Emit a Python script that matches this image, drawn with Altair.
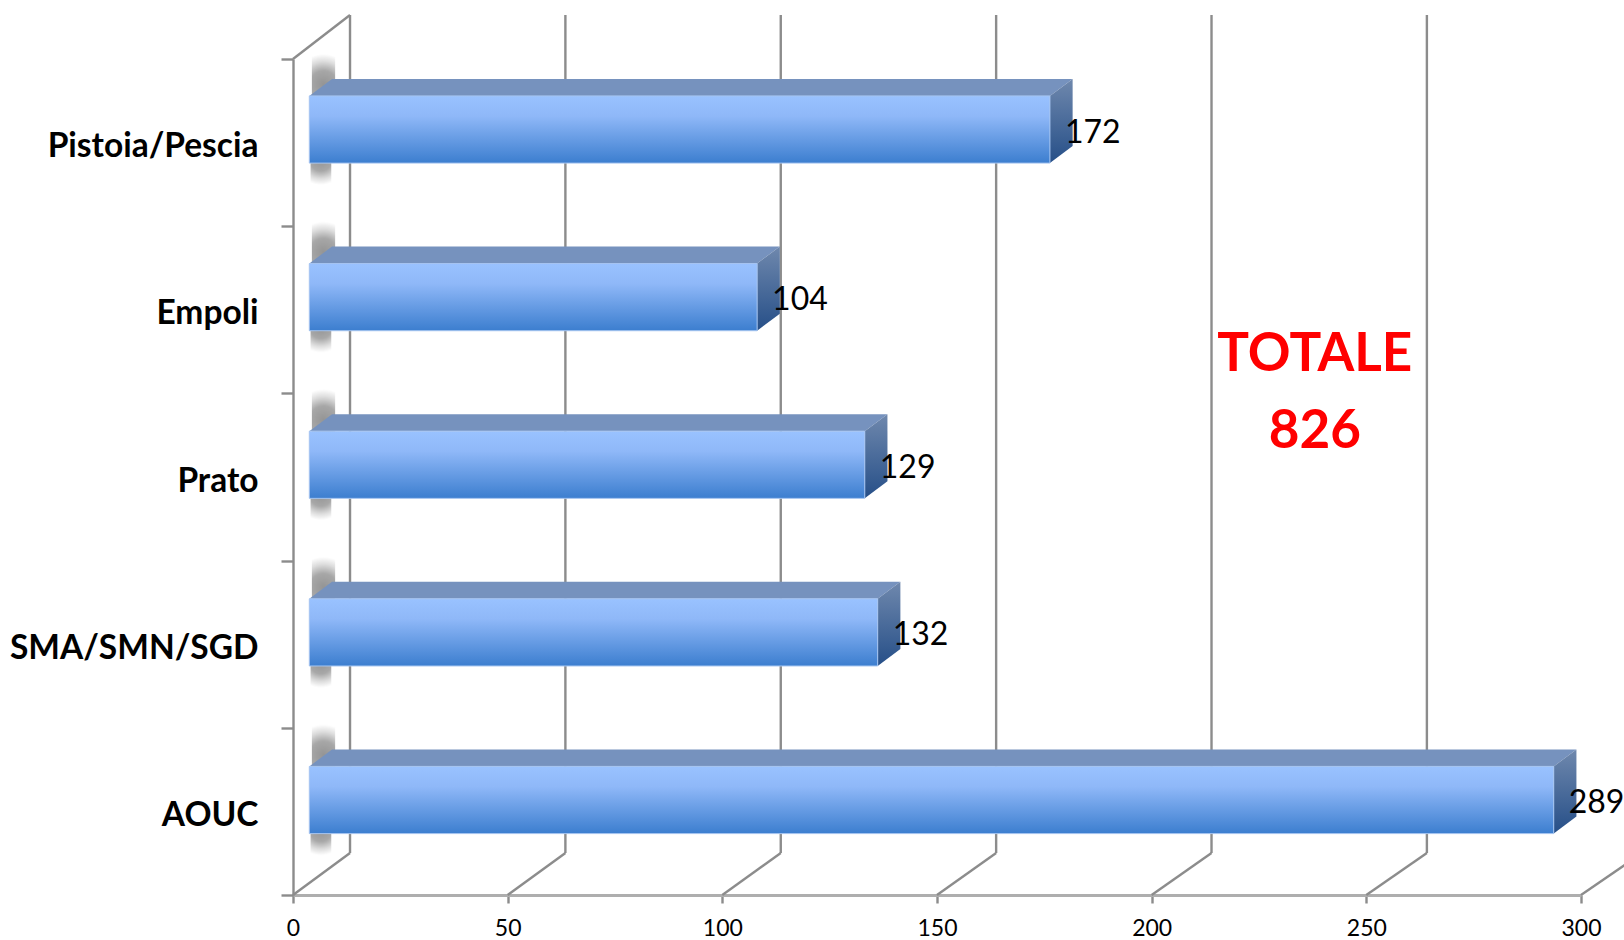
import altair as alt
import pandas as pd

# Data
categories = ["Pistoia/Pescia", "Empoli", "Prato", "SMA/SMN/SGD", "AOUC"]
values = [172, 104, 129, 132, 289]
ticks = [0, 50, 100, 150, 200, 250, 300]
total_lines = ["TOTALE", "826"]

# Wall and floor depth, in axis units of the frame scales
WALL_DX = 13.28
WALL_STRETCH = 1.0033
WALL_DY = 0.2512
WALL_TOP = 5.263

# Half thickness and depth of each bar, in units of the bar scales
BAR_HALF = 0.2005
BAR_DX = 5.27
BAR_DY = 0.1014

frame_x = alt.Scale(domain=[0, 300], range=[293, 1581])
frame_y = alt.Scale(domain=[0, 5], range=[895, 59])
band_y = alt.Scale(domain=categories, range=[59, 895], paddingInner=0, paddingOuter=0)
bar_x = alt.Scale(domain=[0, 300], range=[309.3, 1601.1])
bar_y = alt.Scale(domain=[0, 4], range=[800, 129.5])

GRID = "#8c8c8c"
LINE_W = 2.4

bars = pd.DataFrame({
    "name": categories,
    "value": values,
    "pos": [4, 3, 2, 1, 0],
})
bars["low"] = bars["pos"] - BAR_HALF
bars["high"] = bars["pos"] + BAR_HALF
bars["zero"] = 0

top_rows, side_rows = [], []
for cat, value, pos in zip(bars["name"], bars["value"], bars["pos"]):
    front = pos + BAR_HALF
    back = front + BAR_DY
    top_rows += [
        {"cat": cat, "px": 0, "py": front, "py2": front},
        {"cat": cat, "px": BAR_DX, "py": back, "py2": front},
        {"cat": cat, "px": value, "py": back, "py2": front},
        {"cat": cat, "px": value + BAR_DX, "py": back, "py2": back},
    ]
    side_rows += [
        {"cat": cat, "px": value, "py": front, "py2": pos - BAR_HALF},
        {"cat": cat, "px": value + BAR_DX, "py": back, "py2": pos - BAR_HALF + BAR_DY},
    ]
top_faces = pd.DataFrame(top_rows)
side_faces = pd.DataFrame(side_rows)

# Soft cast shadows on the back wall, above and below each bar
shadows_top = pd.DataFrame(
    [{"x": 0.6, "x2": 6.0, "y": pos + 0.45, "y2": pos + 0.09} for pos in bars["pos"]]
)
shadows_bottom = pd.DataFrame(
    [{"x": 0.3, "x2": 5.1, "y": pos - 0.03, "y2": pos - 0.33} for pos in bars["pos"]]
)

grid = pd.DataFrame({"tick": ticks})
grid["back"] = grid["tick"] * WALL_STRETCH + WALL_DX
grid["y0"] = 0.0
grid["y1"] = WALL_DY
grid["top"] = WALL_TOP

back_lines = alt.Chart(grid).mark_rule(color=GRID, strokeWidth=LINE_W).encode(
    x=alt.X("back:Q", scale=frame_x, axis=None),
    y=alt.Y("y1:Q", scale=frame_y, axis=None),
    y2="top:Q",
)
floor_lines = alt.Chart(grid).mark_rule(color=GRID, strokeWidth=LINE_W).encode(
    x=alt.X("tick:Q", scale=frame_x, axis=None),
    x2="back:Q",
    y=alt.Y("y0:Q", scale=frame_y, axis=None),
    y2="y1:Q",
)
side_wall_top = alt.Chart(grid[grid["tick"] == 0].assign(front_top=5.0)).mark_rule(
    color=GRID, strokeWidth=LINE_W
).encode(
    x=alt.X("tick:Q", scale=frame_x, axis=None),
    x2="back:Q",
    y=alt.Y("front_top:Q", scale=frame_y, axis=None),
    y2="top:Q",
)

# Invisible layer that carries the two real axes
axes_layer = alt.Chart(
    pd.DataFrame({"name": categories, "value": values})
).mark_point(opacity=0).encode(
    x=alt.X(
        "value:Q",
        scale=frame_x,
        axis=alt.Axis(
            values=ticks,
            title=None,
            grid=False,
            offset=-45,
            tickSize=8,
            tickWidth=LINE_W,
            tickColor=GRID,
            domainColor="#aeaeae",
            domainWidth=2.8,
            labelFont="Lato",
            labelFontSize=23,
            labelColor="#000000",
            labelPadding=14,
            labelFlush=False,
            format="d",
        ),
    ),
    y=alt.Y(
        "name:N",
        scale=band_y,
        sort=categories,
        axis=alt.Axis(
            title=None,
            grid=False,
            offset=-293,
            tickSize=12,
            tickWidth=LINE_W,
            tickColor=GRID,
            tickBand="extent",
            domainColor=GRID,
            domainWidth=LINE_W,
            labelFont="Lato",
            labelFontSize=33.5,
            labelFontWeight="bold",
            labelColor="#000000",
            labelPadding=23,
            labelOffset=4,
            labelLimit=400,
        ),
    ),
)

def blob():
    return alt.Gradient(
        gradient="radial",
        x1=0.5, y1=0.5, r1=0,
        x2=0.5, y2=0.5, r2=0.5,
        stops=[
            alt.GradientStop(offset=0, color="rgba(130,130,130,0.85)"),
            alt.GradientStop(offset=0.45, color="rgba(130,130,130,0.7)"),
            alt.GradientStop(offset=0.75, color="rgba(130,130,130,0.28)"),
            alt.GradientStop(offset=1, color="rgba(130,130,130,0)"),
        ],
    )

def shadow_layer(frame):
    return alt.Chart(frame).mark_rect(color=blob()).encode(
        x=alt.X("x:Q", scale=bar_x, axis=None),
        x2="x2:Q",
        y=alt.Y("y:Q", scale=bar_y, axis=None),
        y2="y2:Q",
    )

front_faces = alt.Chart(bars).mark_rect(
    color=alt.Gradient(
        gradient="linear", x1=0, y1=0, x2=0, y2=1,
        stops=[
            alt.GradientStop(offset=0, color="#99C2FF"),
            alt.GradientStop(offset=0.3, color="#8FB8F8"),
            alt.GradientStop(offset=1, color="#3C7ECF"),
        ],
    ),
    stroke="#A5C4F0",
    strokeWidth=1,
).encode(
    x=alt.X("zero:Q", scale=bar_x, axis=None),
    x2="value:Q",
    y=alt.Y("high:Q", scale=bar_y, axis=None),
    y2="low:Q",
)

top_layer = alt.Chart(top_faces).mark_area(
    color="#7692BE", orient="vertical", interpolate="linear"
).encode(
    x=alt.X("px:Q", scale=bar_x, axis=None),
    y=alt.Y("py:Q", scale=bar_y, axis=None, stack=None),
    y2="py2:Q",
    detail="cat:N",
)

side_layer = alt.Chart(side_faces).mark_area(
    color=alt.Gradient(
        gradient="linear", x1=0, y1=0, x2=0, y2=1,
        stops=[
            alt.GradientStop(offset=0, color="#6F88AD"),
            alt.GradientStop(offset=1, color="#264F88"),
        ],
    ),
    orient="vertical",
    interpolate="linear",
).encode(
    x=alt.X("px:Q", scale=bar_x, axis=None),
    y=alt.Y("py:Q", scale=bar_y, axis=None, stack=None),
    y2="py2:Q",
    detail="cat:N",
)

value_labels = alt.Chart(bars).mark_text(
    align="left", baseline="middle", dx=15, dy=3, font="Lato", fontSize=32, color="#000000"
).encode(
    x=alt.X("value:Q", scale=bar_x, axis=None),
    y=alt.Y("pos:Q", scale=bar_y, axis=None),
    text="value:Q",
)

total = alt.Chart(
    pd.DataFrame({"line": total_lines, "x": [238, 238], "y": [3.232, 2.772]})
).mark_text(
    align="center", baseline="middle", font="Lato", fontWeight="bold", fontSize=53, color="#FF0000"
).encode(
    x=alt.X("x:Q", scale=frame_x, axis=None),
    y=alt.Y("y:Q", scale=frame_y, axis=None),
    text="line:N",
)

chart = (
    alt.layer(
        back_lines,
        floor_lines,
        side_wall_top,
        axes_layer,
        shadow_layer(shadows_top),
        shadow_layer(shadows_bottom),
        top_layer,
        side_layer,
        front_faces,
        value_labels,
        total,
    )
    .resolve_scale(x="independent", y="independent")
    .properties(width=1624, height=940, padding=0, autosize=alt.AutoSizeParams(type="none"), background="#FFFFFF")
    .configure_view(stroke=None)
)

chart.save("out.html", embed_options={"renderer": "svg", "actions": False})
